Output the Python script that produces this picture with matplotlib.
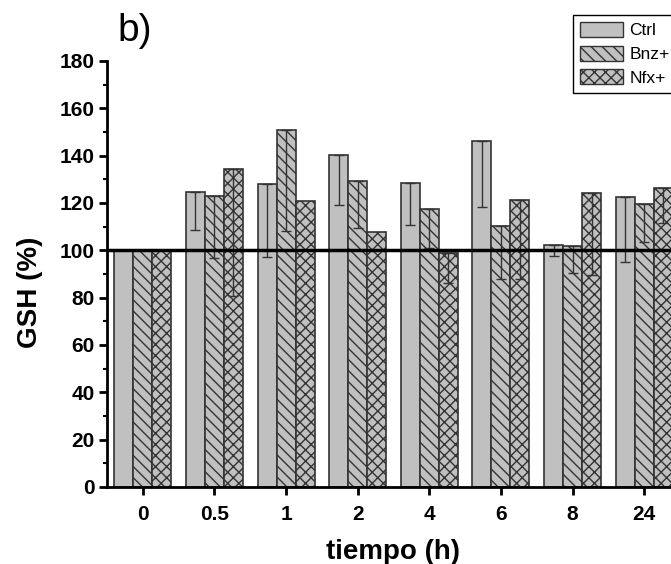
import matplotlib
matplotlib.use("Agg")
import matplotlib.pyplot as plt
import numpy as np
from matplotlib.patches import Patch

plt.rcParams['font.family'] = ['Liberation Sans', 'DejaVu Sans']
plt.rcParams['hatch.linewidth'] = 1.0

categories = ["0", "0.5", "1", "2", "4", "6", "8", "24"]
ctrl = [100, 124.5, 127.9, 140.1, 128.3, 146.2, 102.2, 122.7]
ctrl_err = [0, 15.8, 30.7, 21.0, 17.7, 28.0, 4.6, 27.6]
bnz = [100, 122.9, 150.8, 129.4, 117.6, 110.1, 101.8, 119.4]
bnz_err = [0, 26.0, 42.6, 20.0, 16.8, 22.4, 11.5, 16.0]
nfx = [100, 134.3, 121.0, 107.7, 98.7, 121.2, 124.1, 126.5]
nfx_err = [0, 53.5, 0, 0, 12.7, 33.3, 34.5, 15.0]
series_names = ["Ctrl", "Bnz+", "Nfx+"]

W, H = 671, 564
fig = plt.figure(figsize=(W / 100, H / 100), dpi=100)
ax = fig.add_axes([107 / W, 1 - 487 / H, 573 / W, 426 / H])

x = np.arange(len(categories))
bw = 0.265
face = '#c0c0c0'
edge = '#333333'
hatches = [None, '\\\\\\', 'xxx']
data = [(ctrl, ctrl_err), (bnz, bnz_err), (nfx, nfx_err)]
for i, (vals, errs) in enumerate(data):
    pos = x + (i - 1) * bw
    ax.bar(pos, vals, width=bw, color=face, edgecolor=edge, linewidth=1.2,
           hatch=hatches[i], zorder=2)
    errs = np.array(errs, dtype=float)
    mask = errs > 0
    ax.errorbar(pos[mask], np.array(vals)[mask],
                yerr=[errs[mask], np.zeros(mask.sum())],
                fmt='none', ecolor='#333333', elinewidth=1.0, capsize=3.5,
                capthick=1.0, zorder=3)

ax.axhline(100, color='black', linewidth=2.5, zorder=4)

ax.set_xlim(-0.5, 7.5)
ax.set_ylim(0, 180)
ax.set_xticks(x)
ax.set_xticklabels(categories)
ax.set_yticks(np.arange(0, 181, 20))
ax.set_yticks(np.arange(0, 181, 10), minor=True)

for sp in ['top', 'right']:
    ax.spines[sp].set_visible(False)
for sp in ['left', 'bottom']:
    ax.spines[sp].set_linewidth(2.0)

ax.tick_params(axis='both', which='major', direction='out', length=6, width=2,
               labelsize=15)
ax.tick_params(axis='y', which='minor', direction='out', length=3, width=1.5)
for lab in ax.get_xticklabels() + ax.get_yticklabels():
    lab.set_fontweight('bold')
ax.tick_params(axis='x', pad=7)
ax.tick_params(axis='y', pad=3)

ax.set_xlabel('tiempo (h)', fontsize=20, fontweight='bold', labelpad=11)
ax.set_ylabel('GSH (%)', fontsize=20, fontweight='bold')
ax.yaxis.set_label_coords(-0.111, 0.458)

fig.text(117 / W, 1 - 41 / H, 'b)', fontsize=28, ha='left', va='baseline')

handles = [Patch(facecolor=face, edgecolor=edge, hatch=h, linewidth=1.0)
           for h in hatches]
leg = fig.legend(handles, series_names, loc='upper left',
                 bbox_to_anchor=(573 / W, 1 - 15 / H), frameon=True,
                 fancybox=False, framealpha=1, edgecolor='black',
                 fontsize=12.5, handlelength=2.5, handleheight=0.95,
                 handletextpad=0.35, labelspacing=0.42, borderpad=0.4,
                 borderaxespad=0)
leg.get_frame().set_linewidth(1.0)

fig.savefig('out.png', dpi=100)
